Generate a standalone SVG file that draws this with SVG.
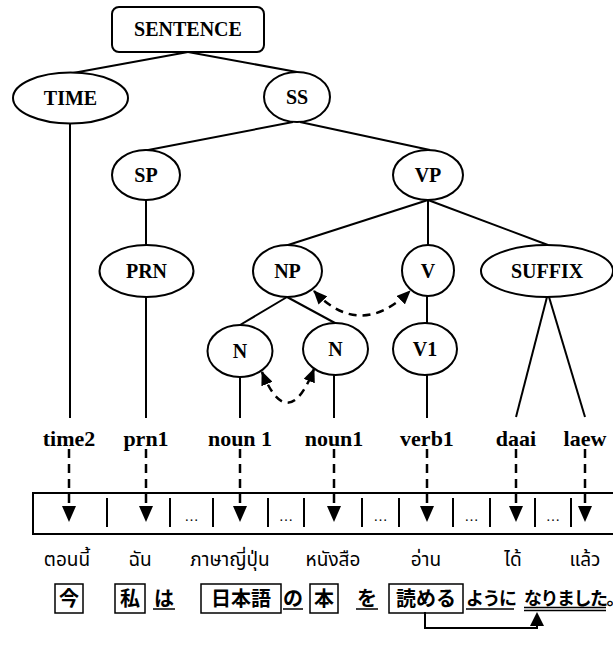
<svg xmlns="http://www.w3.org/2000/svg" width="613" height="650" viewBox="0 0 613 650">
<style>
.nd{fill:#fff;stroke:#000;stroke-width:2}
.lb{font-family:"Liberation Serif","Times New Roman",serif;font-weight:bold;font-size:20px;text-anchor:middle;fill:#000}
.wd{font-family:"Liberation Serif","Times New Roman",serif;font-weight:bold;font-size:22px;text-anchor:middle;fill:#000}
.th{font-family:"Noto Sans Thai","Noto Sans","DejaVu Sans",sans-serif;font-size:19px;text-anchor:middle;fill:#000}
.jp{font-family:"Noto Sans CJK JP",sans-serif;font-weight:bold;font-size:20px;text-anchor:middle;fill:#000}
.js{font-family:"Noto Sans CJK JP",sans-serif;font-weight:bold;font-size:18px;text-anchor:start;fill:#000;letter-spacing:-1.5px}
.dots{font-family:"Liberation Serif",serif;font-size:14px;text-anchor:middle;fill:#000}
.ln{stroke:#000;stroke-width:2;fill:none}
.ds{stroke:#000;stroke-width:2.5;fill:none;stroke-dasharray:9,6}
.dc{stroke:#000;stroke-width:2.5;fill:none;stroke-dasharray:8,6}
.ul{stroke:#000;stroke-width:1.5}
.bx{fill:none;stroke:#000;stroke-width:1.5}
</style>
<defs>
<marker id="ah" viewBox="0 0 14 12" refX="13" refY="6" markerWidth="14" markerHeight="12" markerUnits="userSpaceOnUse" orient="auto-start-reverse">
<path d="M0,0 L14,6 L0,12 Z" fill="#000"/>
</marker>
<polygon id="tri" points="-7,0 7,0 0,16" fill="#000"/>
</defs>

<g id="connectors">
<line class="ln" x1="188" y1="52" x2="73" y2="73"/>
<line class="ln" x1="188" y1="52" x2="297" y2="72"/>
<line class="ln" x1="293" y1="122" x2="143" y2="151"/>
<line class="ln" x1="300" y1="122" x2="430" y2="150"/>
<line class="ln" x1="70" y1="124" x2="70" y2="418"/>
<line class="ln" x1="146" y1="200" x2="146" y2="245"/>
<line class="ln" x1="146" y1="297" x2="146" y2="418"/>
<line class="ln" x1="428" y1="200" x2="288" y2="245"/>
<line class="ln" x1="428" y1="200" x2="428" y2="245"/>
<line class="ln" x1="428" y1="200" x2="548" y2="245"/>
<line class="ln" x1="287" y1="297" x2="240" y2="325"/>
<line class="ln" x1="287" y1="297" x2="335" y2="323"/>
<line class="ln" x1="427" y1="296" x2="427" y2="323"/>
<line class="ln" x1="240" y1="377" x2="240" y2="418"/>
<line class="ln" x1="334" y1="375" x2="334" y2="418"/>
<line class="ln" x1="427" y1="375" x2="427" y2="418"/>
<line class="ln" x1="547" y1="297" x2="516" y2="417"/>
<line class="ln" x1="549" y1="297" x2="585" y2="417"/>
<path class="dc" d="M314,291 Q360,340 410,291" marker-start="url(#ah)" marker-end="url(#ah)"/>
<path class="dc" d="M262,372 Q288,435 314,369" marker-start="url(#ah)" marker-end="url(#ah)"/>
<line class="ds" x1="69" y1="449" x2="69" y2="507"/>
<line class="ds" x1="146" y1="449" x2="146" y2="507"/>
<line class="ds" x1="240" y1="449" x2="240" y2="507"/>
<line class="ds" x1="334" y1="449" x2="334" y2="507"/>
<line class="ds" x1="427" y1="449" x2="427" y2="507"/>
<line class="ds" x1="516" y1="449" x2="516" y2="507"/>
<line class="ds" x1="585" y1="449" x2="585" y2="507"/>
<use href="#tri" x="69" y="506"/>
<use href="#tri" x="146" y="506"/>
<use href="#tri" x="240" y="506"/>
<use href="#tri" x="334" y="506"/>
<use href="#tri" x="427" y="506"/>
<use href="#tri" x="516" y="506"/>
<use href="#tri" x="585" y="506"/>
<polyline class="ln" points="425,612 425,628 537,628 537,622"/>
<polygon points="530,626 544,626 537,612" fill="#000"/>
</g>

<g id="SENTENCE"><rect class="nd" x="112" y="7" width="152" height="45" rx="7"/><text class="lb" x="188" y="36">SENTENCE</text></g>
<g id="TIME"><ellipse class="nd" cx="70.5" cy="98" rx="57.5" ry="25.5"/><text class="lb" x="70.5" y="105">TIME</text></g>
<g id="SS"><ellipse class="nd" cx="297" cy="97" rx="33" ry="25"/><text class="lb" x="297" y="104">SS</text></g>
<g id="SP"><ellipse class="nd" cx="146" cy="175" rx="34" ry="25"/><text class="lb" x="146" y="182">SP</text></g>
<g id="VP"><ellipse class="nd" cx="428" cy="175" rx="35" ry="25"/><text class="lb" x="428" y="182">VP</text></g>
<g id="PRN"><ellipse class="nd" cx="146.5" cy="271" rx="47" ry="26"/><text class="lb" x="146.5" y="278">PRN</text></g>
<g id="NP"><ellipse class="nd" cx="287.5" cy="271" rx="34.5" ry="26"/><text class="lb" x="287.5" y="278">NP</text></g>
<g id="V"><ellipse class="nd" cx="428" cy="270.5" rx="26" ry="25.5"/><text class="lb" x="428" y="278">V</text></g>
<g id="SUFFIX"><ellipse class="nd" cx="547" cy="271" rx="66" ry="26"/><text class="lb" x="547" y="278">SUFFIX</text></g>
<g id="N1"><ellipse class="nd" cx="240" cy="351" rx="32.5" ry="26"/><text class="lb" x="240" y="358">N</text></g>
<g id="N2"><ellipse class="nd" cx="335.5" cy="349" rx="32.5" ry="26"/><text class="lb" x="335.5" y="356">N</text></g>
<g id="V1"><ellipse class="nd" cx="425" cy="349" rx="32" ry="26"/><text class="lb" x="425" y="356">V1</text></g>

<g id="words">
<text class="wd" x="69" y="446">time2</text>
<text class="wd" x="146" y="446">prn1</text>
<text class="wd" x="240" y="446">noun 1</text>
<text class="wd" x="334" y="446">noun1</text>
<text class="wd" x="427" y="446">verb1</text>
<text class="wd" x="516" y="446">daai</text>
<text class="wd" x="585" y="446">laew</text>
</g>

<g id="slots">
<rect x="33" y="493" width="600" height="41" fill="none" stroke="#000" stroke-width="2"/>
<g stroke="#000" stroke-width="2">
<line x1="107" y1="498" x2="107" y2="527"/>
<line x1="170" y1="498" x2="170" y2="527"/>
<line x1="213" y1="498" x2="213" y2="527"/>
<line x1="268" y1="498" x2="268" y2="527"/>
<line x1="304" y1="498" x2="304" y2="527"/>
<line x1="362" y1="498" x2="362" y2="527"/>
<line x1="399" y1="498" x2="399" y2="527"/>
<line x1="453" y1="498" x2="453" y2="527"/>
<line x1="490" y1="498" x2="490" y2="527"/>
<line x1="535" y1="498" x2="535" y2="527"/>
<line x1="571" y1="498" x2="571" y2="527"/>
</g>
<text class="dots" x="191.5" y="521">…</text>
<text class="dots" x="286" y="521">…</text>
<text class="dots" x="380.5" y="521">…</text>
<text class="dots" x="471.5" y="521">…</text>
<text class="dots" x="553" y="521">…</text>
</g>

<g id="thai">
<text class="th" x="67" y="566">ตอนนี้</text>
<text class="th" x="140" y="566">ฉัน</text>
<text class="th" x="230" y="566">ภาษาญี่ปุ่น</text>
<text class="th" x="333" y="566">หนังสือ</text>
<text class="th" x="426" y="566">อ่าน</text>
<text class="th" x="513" y="566">ได้</text>
<text class="th" x="585" y="566">แล้ว</text>
</g>

<g id="japanese">
<rect class="bx" x="55" y="584" width="28" height="29"/>
<text class="jp" x="69" y="606">今</text>
<rect class="bx" x="115" y="584" width="30" height="29"/>
<text class="jp" x="130" y="606">私</text>
<text class="jp" x="164" y="606">は</text>
<line class="ul" x1="153" y1="609" x2="175" y2="609"/>
<rect class="bx" x="201" y="584" width="80" height="29"/>
<text class="jp" x="241" y="606">日本語</text>
<text class="jp" x="293" y="606">の</text>
<line class="ul" x1="283" y1="609" x2="303" y2="609"/>
<rect class="bx" x="310" y="584" width="28" height="29"/>
<text class="jp" x="324" y="606">本</text>
<text class="jp" x="367" y="606">を</text>
<line class="ul" x1="356" y1="609" x2="378" y2="609"/>
<rect class="bx" x="389" y="584" width="74" height="29"/>
<text class="jp" x="426" y="606">読める</text>
<text class="js" x="466" y="605">ように</text>
<line class="ul" x1="466" y1="609" x2="514" y2="609"/>
<text class="js" x="524" y="605">なりました。</text>
<line class="ul" x1="524" y1="607.5" x2="606" y2="607.5"/>
<line class="ul" x1="524" y1="610.5" x2="606" y2="610.5"/>
</g>
</svg>
